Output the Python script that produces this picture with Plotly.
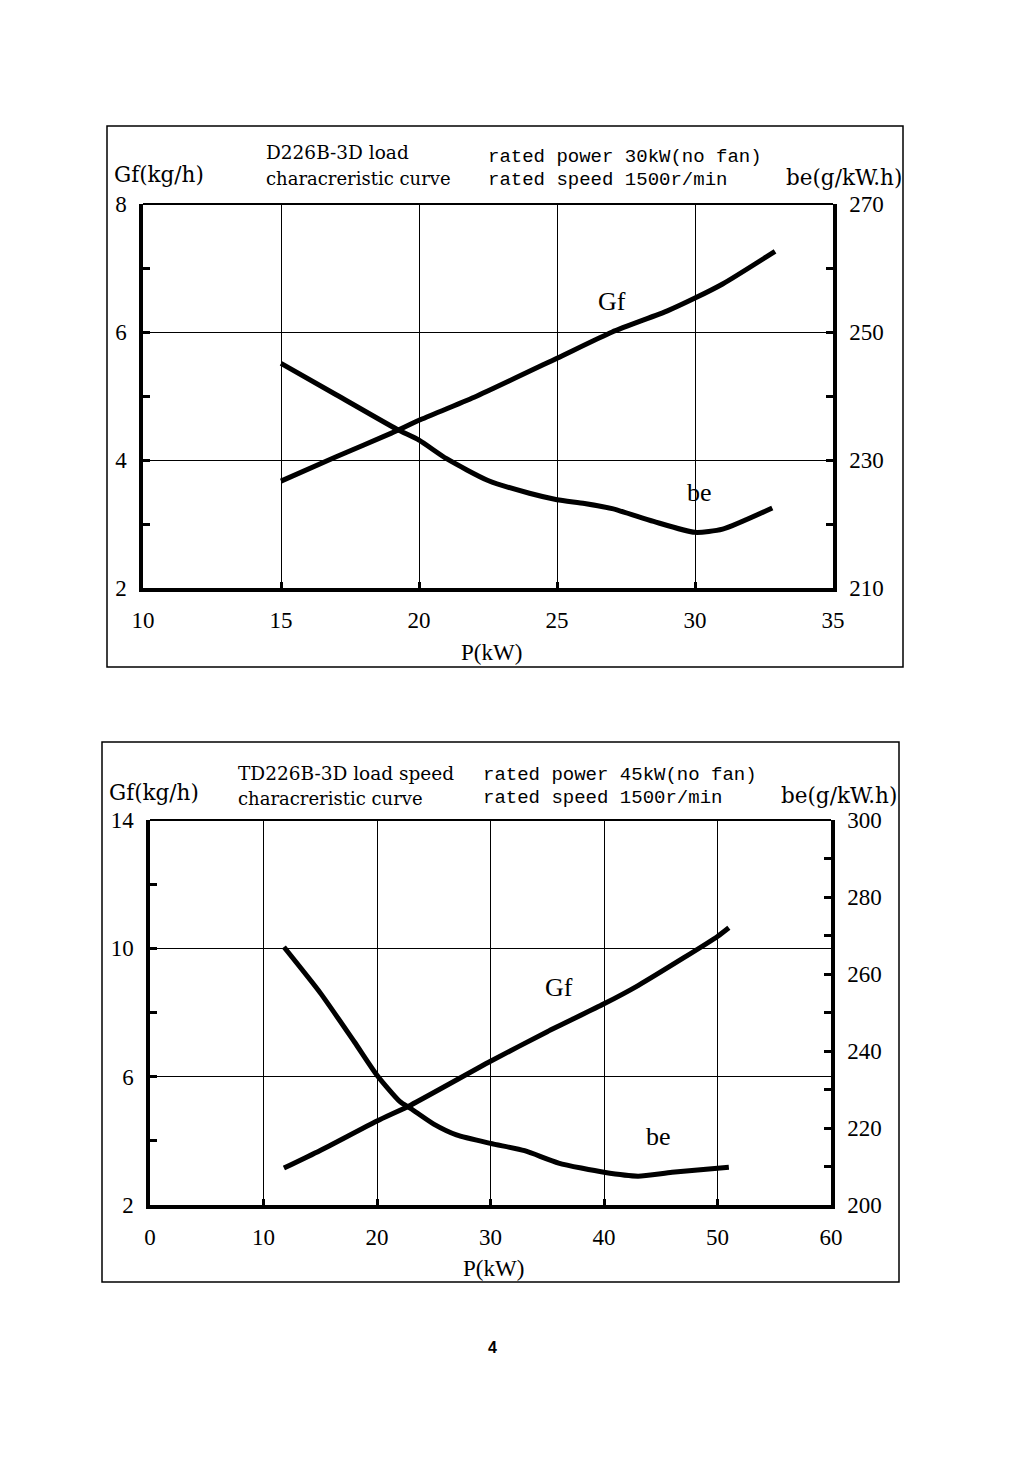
import plotly.graph_objects as go

# the page places the figure 8px in from the top-left corner
OFF = 8
W, H = 1024 - OFF, 1466 - OFF

# ---------- data ----------
# Chart 1: D226B-3D
p1_gf = [15, 17, 19, 20, 22, 25, 27, 29, 30, 31, 32.9]
gf1 = [3.67, 4.05, 4.42, 4.62, 4.98, 5.59, 6.0, 6.33, 6.53, 6.75, 7.26]
p1_be = [15, 17, 19.2, 20, 21, 22.5, 24, 25, 26, 27, 28.5, 30, 31, 32.8]
be1 = [245.1, 240.2, 234.8, 233.1, 230.2, 226.8, 224.8, 223.8, 223.2, 222.4, 220.4, 218.7, 219.2, 222.5]

# Chart 2: TD226B-3D
p2_gf = [11.8, 15, 20, 23, 30, 35, 40, 43, 47, 50, 51]
gf2 = [3.15, 3.7, 4.62, 5.12, 6.48, 7.4, 8.27, 8.84, 9.7, 10.37, 10.64]
p2_be = [11.8, 15, 18, 20, 22, 23, 25, 27, 30, 33, 36, 40, 43, 46, 51]
be2 = [267.0, 255.1, 242.4, 233.7, 226.9, 225.0, 221.0, 218.2, 216.0, 214.1, 210.9, 208.5, 207.5, 208.5, 209.8]

x1_ticks = [10, 15, 20, 25, 30, 35]
y1_ticks = [2, 4, 6, 8]
y1r_ticks = [210, 230, 250, 270]
x2_ticks = [0, 10, 20, 30, 40, 50, 60]
y2_ticks = [2, 6, 10, 14]
y2r_ticks = [200, 220, 240, 260, 280, 300]

SERIF = "Liberation Serif"
WSERIF = "DejaVu Serif"
MONO = "Liberation Mono"


def px(x):
    return (x - OFF) / W


def py(y):
    return 1 - (y - OFF) / H


fig = go.Figure()
line = dict(color="black", width=5)
fig.add_trace(go.Scatter(x=p1_gf, y=gf1, mode="lines", line=dict(line, shape="spline", smoothing=0.6),
                         xaxis="x", yaxis="y", showlegend=False))
fig.add_trace(go.Scatter(x=p1_be, y=be1, mode="lines", line=dict(line, shape="spline", smoothing=0.6),
                         xaxis="x", yaxis="y2", showlegend=False))
fig.add_trace(go.Scatter(x=p2_gf, y=gf2, mode="lines", line=dict(line, shape="spline", smoothing=0.6),
                         xaxis="x2", yaxis="y3", showlegend=False))
fig.add_trace(go.Scatter(x=p2_be, y=be2, mode="lines", line=dict(line, shape="spline", smoothing=0.6),
                         xaxis="x2", yaxis="y4", showlegend=False))

tickfont = dict(family=SERIF, size=23, color="black")


def xax(dom, rng, ticks, anchor):
    return dict(domain=dom, range=rng, tickvals=ticks, anchor=anchor, automargin=False,
                showgrid=True, gridcolor="black", gridwidth=1.3,
                showline=True, linecolor="black", linewidth=3.5,
                ticks="inside", ticklen=6, tickwidth=2.5, tickcolor="black",
                tickfont=tickfont, ticklabelstandoff=9, zeroline=False, fixedrange=True)


def yax(dom, rng, ticks, anchor, minor_dt, side="left", overlay=None, grid=True):
    d = dict(domain=dom, range=rng, tickvals=ticks, anchor=anchor, side=side, automargin=False,
             showgrid=grid, gridcolor="black", gridwidth=1.3,
             showline=True, linecolor="black", linewidth=3.5,
             ticks="inside", ticklen=7, tickwidth=3, tickcolor="black",
             minor=dict(dtick=minor_dt, ticks="inside", ticklen=7, tickwidth=3,
                        tickcolor="black", showgrid=False),
             tickfont=tickfont, ticklabelstandoff=8, zeroline=False, fixedrange=True)
    if overlay:
        d["overlaying"] = overlay
    return d


top_x = [px(143), px(833)]
top_y = [py(588), py(204)]
bot_x = [px(150), px(831)]
bot_y = [py(1205), py(820)]

fig.update_layout(
    template="none",
    width=W, height=H, autosize=False, margin=dict(l=0, r=0, t=0, b=0, pad=0),
    paper_bgcolor="white", plot_bgcolor="white",
    xaxis=xax(top_x, [10, 35], x1_ticks, "y"),
    yaxis=yax(top_y, [2, 8], y1_ticks, "x", 1),
    yaxis2=yax(top_y, [210, 270], y1r_ticks, "x", 10, side="right", overlay="y", grid=False),
    xaxis2=xax(bot_x, [0, 60], x2_ticks, "y3"),
    yaxis3=yax(bot_y, [2, 14], y2_ticks, "x2", 2),
    yaxis4=yax(bot_y, [200, 300], y2r_ticks, "x2", 10, side="right", overlay="y3", grid=False),
)

shapes = []
# outer boxes
shapes.append(dict(type="rect", xref="paper", yref="paper", x0=px(107), x1=px(903), y0=py(667), y1=py(126),
                   line=dict(color="black", width=1.5)))
shapes.append(dict(type="rect", xref="paper", yref="paper", x0=px(102), x1=px(899), y0=py(1282), y1=py(742),
                   line=dict(color="black", width=1.5)))
# top frame lines of plot areas
shapes.append(dict(type="line", xref="paper", yref="paper", x0=top_x[0], x1=top_x[1], y0=top_y[1], y1=top_y[1],
                   line=dict(color="black", width=2)))
shapes.append(dict(type="line", xref="paper", yref="paper", x0=bot_x[0], x1=bot_x[1], y0=bot_y[1], y1=bot_y[1],
                   line=dict(color="black", width=2)))
fig.update_layout(shapes=shapes)

ann = []


def text(x, y, s, size=21, fam=SERIF, xanchor="left", bold=False):
    if bold:
        s = "<b>" + s + "</b>"
    ann.append(dict(x=px(x), y=py(y), xref="paper", yref="paper", text=s, showarrow=False,
                    xanchor=xanchor, yanchor="middle", font=dict(family=fam, size=size, color="black")))


# chart 1 texts
text(112, 175, "Gf(kg/h)", 21.5, WSERIF)
text(264, 153, "D226B-3D load", 18.5, WSERIF)
text(264, 179, "characreristic curve", 18, WSERIF)
text(486, 157, "rated power 30kW(no fan)", 19, MONO)
text(486, 180, "rated speed 1500r/min", 19, MONO)
text(904, 178, "be(g/kW.h)", 21.5, WSERIF, xanchor="right")
text(491, 652, "P(kW)", 23, xanchor="center")
# chart 2 texts
text(107, 792, "Gf(kg/h)", 21.5, WSERIF)
text(236, 773, "TD226B-3D load speed", 18.5, WSERIF)
text(236, 798, "characreristic curve", 18, WSERIF)
text(481, 775, "rated power 45kW(no fan)", 19, MONO)
text(481, 798, "rated speed 1500r/min", 19, MONO)
text(899, 795, "be(g/kW.h)", 21.5, WSERIF, xanchor="right")
text(493, 1268, "P(kW)", 23, xanchor="center")
# page number
text(492, 1347, "4", 16, "Liberation Sans", xanchor="center", bold=True)

# curve labels (placed in data coordinates)
ann.append(dict(x=27.0, y=6.48, xref="x", yref="y", text="Gf", showarrow=False,
                font=dict(family=SERIF, size=26, color="black")))
ann.append(dict(x=30.15, y=3.5, xref="x", yref="y", text="be", showarrow=False,
                font=dict(family=SERIF, size=26, color="black")))
ann.append(dict(x=36.0, y=8.78, xref="x2", yref="y3", text="Gf", showarrow=False,
                font=dict(family=SERIF, size=26, color="black")))
ann.append(dict(x=44.8, y=4.13, xref="x2", yref="y3", text="be", showarrow=False,
                font=dict(family=SERIF, size=26, color="black")))
fig.update_layout(annotations=ann)

fig.write_html("out.html")
